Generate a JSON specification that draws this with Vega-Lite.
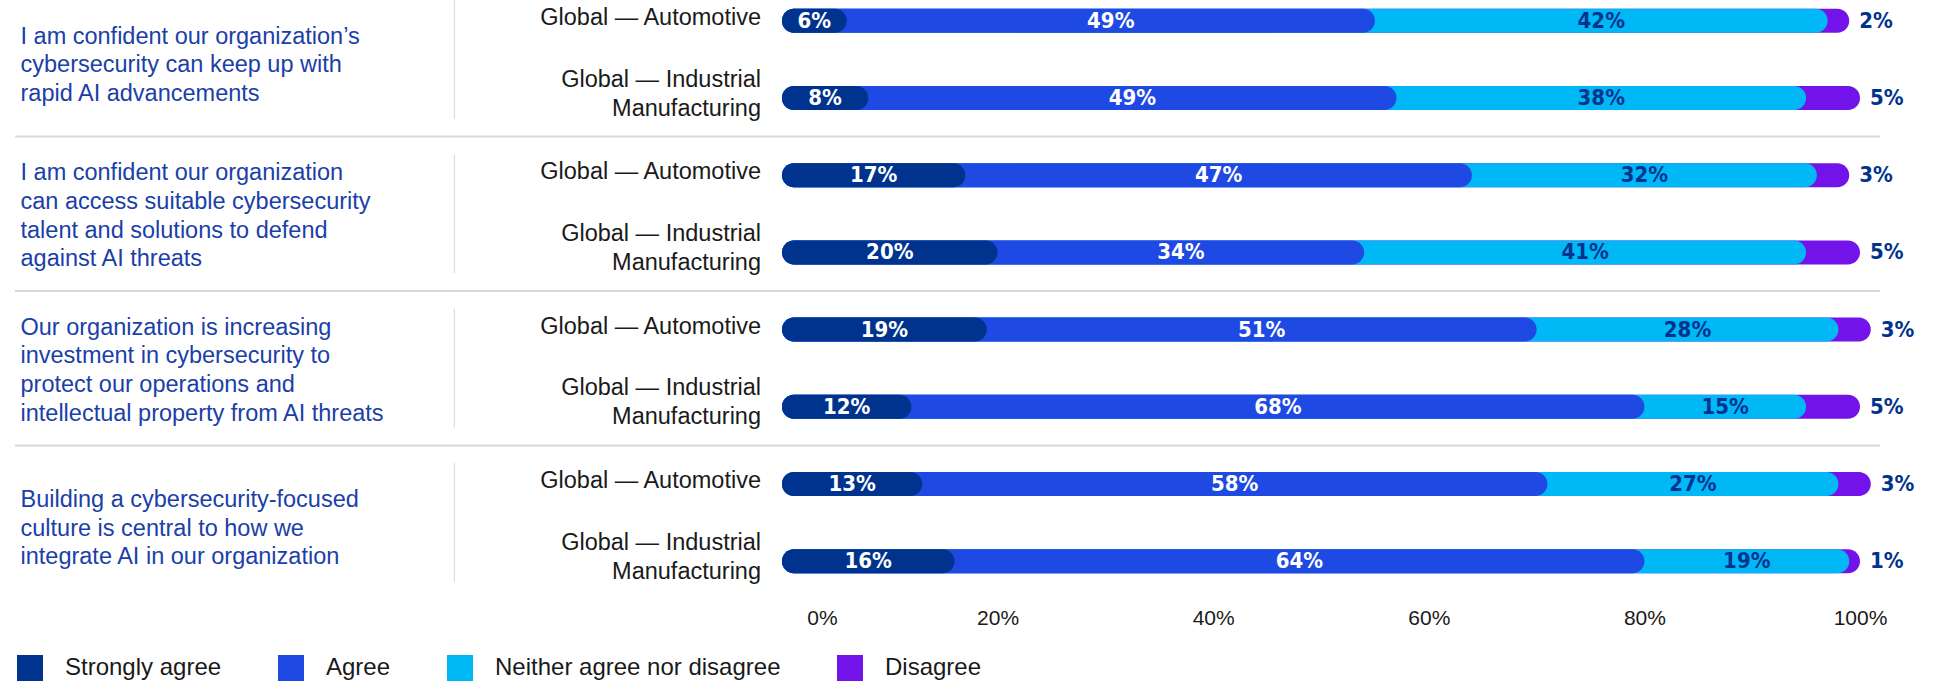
{
  "$schema": "https://vega.github.io/schema/vega-lite/v6.json",
  "autosize": {"type": "none"},
  "padding": {"left": 15, "top": 0, "right": 64, "bottom": 81},
  "width": 1865,
  "height": 600,
  "background": "white",
  "config": {"view": {"stroke": null}, "font": "Liberation Sans"},
  "data": {"values": [
    {"question": "I am confident our organization’s\ncybersecurity can keep up with\nrapid AI advancements", "group": "Global — Automotive", "response": "Disagree", "rank": 4, "value": 2},
    {"question": "I am confident our organization’s\ncybersecurity can keep up with\nrapid AI advancements", "group": "Global — Automotive", "response": "Neither agree nor disagree", "rank": 3, "value": 42},
    {"question": "I am confident our organization’s\ncybersecurity can keep up with\nrapid AI advancements", "group": "Global — Automotive", "response": "Agree", "rank": 2, "value": 49},
    {"question": "I am confident our organization’s\ncybersecurity can keep up with\nrapid AI advancements", "group": "Global — Automotive", "response": "Strongly agree", "rank": 1, "value": 6},
    {"question": "I am confident our organization’s\ncybersecurity can keep up with\nrapid AI advancements", "group": "Global — Industrial\nManufacturing", "response": "Disagree", "rank": 4, "value": 5},
    {"question": "I am confident our organization’s\ncybersecurity can keep up with\nrapid AI advancements", "group": "Global — Industrial\nManufacturing", "response": "Neither agree nor disagree", "rank": 3, "value": 38},
    {"question": "I am confident our organization’s\ncybersecurity can keep up with\nrapid AI advancements", "group": "Global — Industrial\nManufacturing", "response": "Agree", "rank": 2, "value": 49},
    {"question": "I am confident our organization’s\ncybersecurity can keep up with\nrapid AI advancements", "group": "Global — Industrial\nManufacturing", "response": "Strongly agree", "rank": 1, "value": 8},
    {"question": "I am confident our organization\ncan access suitable cybersecurity\ntalent and solutions to defend\nagainst AI threats", "group": "Global — Automotive", "response": "Disagree", "rank": 4, "value": 3},
    {"question": "I am confident our organization\ncan access suitable cybersecurity\ntalent and solutions to defend\nagainst AI threats", "group": "Global — Automotive", "response": "Neither agree nor disagree", "rank": 3, "value": 32},
    {"question": "I am confident our organization\ncan access suitable cybersecurity\ntalent and solutions to defend\nagainst AI threats", "group": "Global — Automotive", "response": "Agree", "rank": 2, "value": 47},
    {"question": "I am confident our organization\ncan access suitable cybersecurity\ntalent and solutions to defend\nagainst AI threats", "group": "Global — Automotive", "response": "Strongly agree", "rank": 1, "value": 17},
    {"question": "I am confident our organization\ncan access suitable cybersecurity\ntalent and solutions to defend\nagainst AI threats", "group": "Global — Industrial\nManufacturing", "response": "Disagree", "rank": 4, "value": 5},
    {"question": "I am confident our organization\ncan access suitable cybersecurity\ntalent and solutions to defend\nagainst AI threats", "group": "Global — Industrial\nManufacturing", "response": "Neither agree nor disagree", "rank": 3, "value": 41},
    {"question": "I am confident our organization\ncan access suitable cybersecurity\ntalent and solutions to defend\nagainst AI threats", "group": "Global — Industrial\nManufacturing", "response": "Agree", "rank": 2, "value": 34},
    {"question": "I am confident our organization\ncan access suitable cybersecurity\ntalent and solutions to defend\nagainst AI threats", "group": "Global — Industrial\nManufacturing", "response": "Strongly agree", "rank": 1, "value": 20},
    {"question": "Our organization is increasing\ninvestment in cybersecurity to\nprotect our operations and\nintellectual property from AI threats", "group": "Global — Automotive", "response": "Disagree", "rank": 4, "value": 3},
    {"question": "Our organization is increasing\ninvestment in cybersecurity to\nprotect our operations and\nintellectual property from AI threats", "group": "Global — Automotive", "response": "Neither agree nor disagree", "rank": 3, "value": 28},
    {"question": "Our organization is increasing\ninvestment in cybersecurity to\nprotect our operations and\nintellectual property from AI threats", "group": "Global — Automotive", "response": "Agree", "rank": 2, "value": 51},
    {"question": "Our organization is increasing\ninvestment in cybersecurity to\nprotect our operations and\nintellectual property from AI threats", "group": "Global — Automotive", "response": "Strongly agree", "rank": 1, "value": 19},
    {"question": "Our organization is increasing\ninvestment in cybersecurity to\nprotect our operations and\nintellectual property from AI threats", "group": "Global — Industrial\nManufacturing", "response": "Disagree", "rank": 4, "value": 5},
    {"question": "Our organization is increasing\ninvestment in cybersecurity to\nprotect our operations and\nintellectual property from AI threats", "group": "Global — Industrial\nManufacturing", "response": "Neither agree nor disagree", "rank": 3, "value": 15},
    {"question": "Our organization is increasing\ninvestment in cybersecurity to\nprotect our operations and\nintellectual property from AI threats", "group": "Global — Industrial\nManufacturing", "response": "Agree", "rank": 2, "value": 68},
    {"question": "Our organization is increasing\ninvestment in cybersecurity to\nprotect our operations and\nintellectual property from AI threats", "group": "Global — Industrial\nManufacturing", "response": "Strongly agree", "rank": 1, "value": 12},
    {"question": "Building a cybersecurity-focused\nculture is central to how we\nintegrate AI in our organization", "group": "Global — Automotive", "response": "Disagree", "rank": 4, "value": 3},
    {"question": "Building a cybersecurity-focused\nculture is central to how we\nintegrate AI in our organization", "group": "Global — Automotive", "response": "Neither agree nor disagree", "rank": 3, "value": 27},
    {"question": "Building a cybersecurity-focused\nculture is central to how we\nintegrate AI in our organization", "group": "Global — Automotive", "response": "Agree", "rank": 2, "value": 58},
    {"question": "Building a cybersecurity-focused\nculture is central to how we\nintegrate AI in our organization", "group": "Global — Automotive", "response": "Strongly agree", "rank": 1, "value": 13},
    {"question": "Building a cybersecurity-focused\nculture is central to how we\nintegrate AI in our organization", "group": "Global — Industrial\nManufacturing", "response": "Disagree", "rank": 4, "value": 1},
    {"question": "Building a cybersecurity-focused\nculture is central to how we\nintegrate AI in our organization", "group": "Global — Industrial\nManufacturing", "response": "Neither agree nor disagree", "rank": 3, "value": 19},
    {"question": "Building a cybersecurity-focused\nculture is central to how we\nintegrate AI in our organization", "group": "Global — Industrial\nManufacturing", "response": "Agree", "rank": 2, "value": 64},
    {"question": "Building a cybersecurity-focused\nculture is central to how we\nintegrate AI in our organization", "group": "Global — Industrial\nManufacturing", "response": "Strongly agree", "rank": 1, "value": 16}
  ]},
  "layer": [
    {
      "transform": [{"aggregate": [{"op": "count", "as": "n"}], "groupby": ["question"]}],
      "mark": {"type": "rule", "color": "#d9d9d9", "strokeWidth": 2},
      "encoding": {
        "y": {"field": "question", "type": "nominal", "sort": null, "bandPosition": 0, "title": null}
      }
    },
    {
      "transform": [{"aggregate": [{"op": "count", "as": "n"}], "groupby": ["question"]}],
      "mark": {"type": "bar", "color": "#dedede", "height": {"band": 0.77}},
      "encoding": {
        "y": {"field": "question", "type": "nominal", "sort": null, "title": null},
        "x": {"datum": -30.45, "type": "quantitative", "scale": {"domain": [0, 100], "range": [767, 1845]}},
        "x2": {"datum": -30.33}
      }
    },
    {
      "transform": [{"stack": "value", "groupby": ["question", "group"], "sort": [{"field": "rank", "order": "ascending"}], "as": ["x0", "x1"]}],
      "mark": {"type": "bar", "cornerRadius": 12, "height": 24},
      "encoding": {
        "y": {
          "field": "question", "type": "nominal", "sort": null, "title": null,
          "scale": {"range": [-17.8, 599.8], "paddingInner": 0, "paddingOuter": 0},
          "axis": {
            "domain": false, "ticks": false, "tickSize": 0, "labelAlign": "left", "labelPadding": -5,
            "labelBaseline": "middle", "labelLimit": 0,
            "labelOffset": {"condition": {"test": "length(split(datum.value, '\\n')) === 4", "value": -40.5}, "value": -22.7},
            "labelExpr": "split(datum.label, '\\n')", "labelLineHeight": 28.7,
            "labelFont": "Liberation Sans", "labelFontSize": 23.5, "labelColor": "#1a40a8"
          }
        },
        "yOffset": {"field": "group", "type": "nominal", "scale": {"paddingInner": 0, "paddingOuter": 0}},
        "x": {
          "field": "x1", "type": "quantitative", "stack": null, "title": null,
          "scale": {"domain": [0, 100], "range": [767, 1845]},
          "axis": {
            "values": [0, 20, 40, 60, 80, 100], "domain": false, "ticks": false, "tickSize": 0, "grid": false,
            "labelFlush": false,
            "labelExpr": "datum.value + '%'", "labelPadding": 7, "labelFontSize": 21,
            "labelColor": "#1a1a1a", "labelFont": "Liberation Sans",
            "labelOffset": {"condition": {"test": "datum.value === 0", "value": 40}, "value": 0}
          }
        },
        "color": {
          "field": "response", "type": "nominal",
          "scale": {
            "domain": ["Strongly agree", "Agree", "Neither agree nor disagree", "Disagree"],
            "range": ["#00338D", "#1E49E2", "#00B8F5", "#7213EA"]
          },
          "legend": {
            "title": null, "orient": "none", "direction": "horizontal", "legendX": 2, "legendY": 655,
            "symbolType": "square", "symbolSize": 676, "symbolStrokeWidth": 0, "symbolOpacity": 1,
            "labelFontSize": 24, "labelFont": "Liberation Sans", "labelColor": "#1a1a1a",
            "labelOffset": 22, "columnPadding": 56, "padding": 0, "labelLimit": 400
          }
        }
      }
    },
    {
      "transform": [{"filter": "datum.response !== 'Disagree'"}],
      "mark": {"type": "text", "font": "'DejaVu Sans Condensed', 'Liberation Sans', sans-serif", "fontWeight": "bold", "fontSize": 22, "baseline": "middle", "align": "center", "text": {"expr": "datum.value + '%'"}},
      "encoding": {
        "y": {"field": "question", "type": "nominal", "sort": null, "title": null},
        "yOffset": {"field": "group", "type": "nominal"},
        "x": {"field": "value", "type": "quantitative", "stack": "zero", "bandPosition": 0.5, "title": null, "scale": {"domain": [0, 100], "range": [767, 1845]}},
        "order": {"field": "rank", "type": "quantitative"},
        "detail": {"field": "response"},
        "color": {"condition": {"test": "datum.response === 'Neither agree nor disagree'", "value": "#00338D"}, "value": "#ffffff"}
      }
    },
    {
      "transform": [
        {"stack": "value", "groupby": ["question", "group"], "sort": [{"field": "rank", "order": "ascending"}], "as": ["x0", "x1"]},
        {"filter": "datum.response === 'Disagree'"}
      ],
      "mark": {"type": "text", "font": "'DejaVu Sans Condensed', 'Liberation Sans', sans-serif", "fontWeight": "bold", "fontSize": 22, "baseline": "middle", "align": "left", "dx": 10, "color": "#00338D", "text": {"expr": "datum.value + '%'"}},
      "encoding": {
        "y": {"field": "question", "type": "nominal", "sort": null, "title": null},
        "yOffset": {"field": "group", "type": "nominal"},
        "x": {"field": "x1", "type": "quantitative", "stack": null, "title": null, "scale": {"domain": [0, 100], "range": [767, 1845]}}
      }
    },
    {
      "transform": [{"filter": "datum.response === 'Strongly agree'"}],
      "mark": {"type": "text", "font": "Liberation Sans", "fontSize": 23.5, "baseline": "middle", "align": "right", "dx": -21, "dy": {"expr": "indexof(datum.group, '\\n') >= 0 ? -18.5 : -3"}, "lineBreak": "\n", "lineHeight": 29, "color": "#1a1a1a"},
      "encoding": {
        "y": {"field": "question", "type": "nominal", "sort": null, "title": null},
        "yOffset": {"field": "group", "type": "nominal"},
        "x": {"datum": 0, "type": "quantitative", "scale": {"domain": [0, 100], "range": [767, 1845]}},
        "text": {"field": "group"}
      }
    }
  ]
}
